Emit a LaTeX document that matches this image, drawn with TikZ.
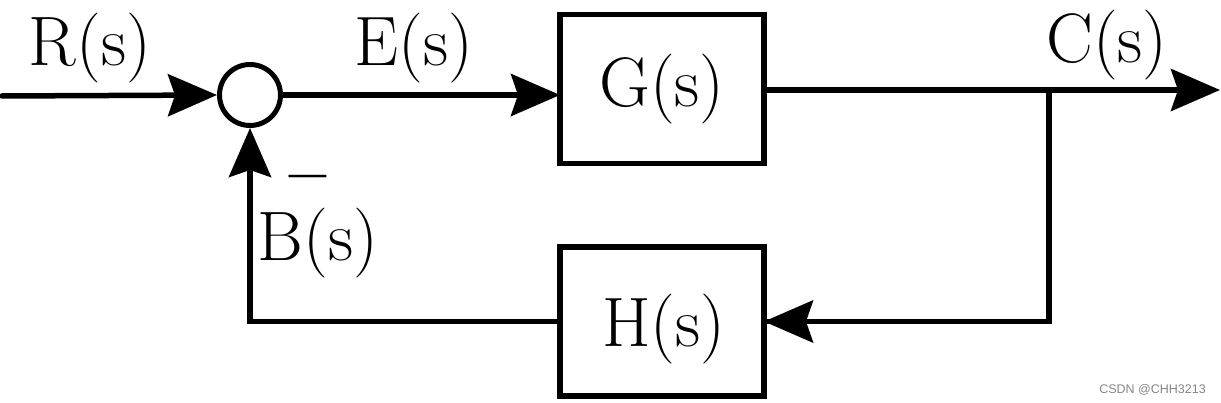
\documentclass[tikz,border=0pt]{standalone}
\usepackage{fontspec}
\newfontfamily\wmfont{Liberation Sans}
\usetikzlibrary{arrows.meta}
\tikzset{
  big/.style={font=\fontsize{70}{84}\selectfont, inner sep=0pt},
  sig/.style={line width=5.5pt, -{Stealth[length=49pt,width=42pt,inset=7pt]}},
  wire/.style={line width=5.5pt},
  blockbox/.style={draw, line width=5.5pt, minimum width=204pt, minimum height=149pt, inner sep=0pt, outer sep=0pt},
  sumnode/.style={draw, circle, line width=5pt, minimum size=61pt, inner sep=0pt},
}
\begin{document}
\begin{tikzpicture}[x=1pt,y=-1pt]
\useasboundingbox (0,0) rectangle (1221,403);
% blocks
\node[sumnode] (sum) at (250,95) {};
\node[blockbox, big] (G) at (662,89) {G(s)};
\node[blockbox] (H) at (662,321.5) {};
\node[big] (Ht) at (664,329.5) {H(s)};
% coordinates
\coordinate (in) at (2,96);
\coordinate (out) at (1220,90);
\coordinate (br) at (1049,90);
% connectors
\draw[sig, line cap=round] (in) -- (sum.west);
\draw[sig] (sum.east) -- (sum.east -| G.west);
\draw[sig] (G.east |- out) -- (out);
\draw[wire] ([yshift=-2.75pt]br) -- (br |- H.east) -- ([xshift=-2pt]H.east);
\draw[sig] (br |- H.east) -- (H.east);
\draw[sig] (H.west) -| (sum.south);
% labels
\node[big] (R) at (90,48) {R(s)};
\node[big] (E) at (414,48) {E(s)};
\node[big] (C) at (1107,45) {C(s)};
\node[big] (B) at (318,243) {B(s)};
\node[inner sep=0pt] (minus) at (308,177) {\raisebox{-38pt}[5pt][0pt]{\scalebox{1.15}[2.2]{\fontsize{70}{84}\selectfont --}}};
\node[font=\wmfont\fontsize{12.5}{15}\selectfont, text=black!48, anchor=base east, inner sep=0pt] (wm) at (1206,393) {CSDN @CHH3213};
\end{tikzpicture}
\end{document}
